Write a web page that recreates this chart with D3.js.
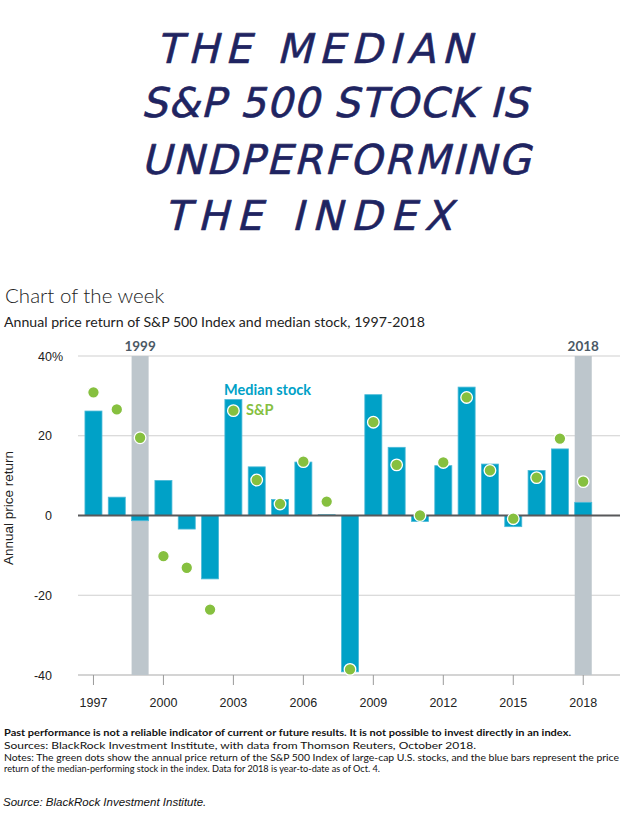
<!DOCTYPE html>
<html><head><meta charset="utf-8">
<script src="https://cdn.jsdelivr.net/npm/d3@7"></script>
<style>body{margin:0;background:#fff}svg{display:block}</style>
</head><body>
<svg id="c" width="621" height="822"></svg>
<script>
// ---- data ----
const years = [1997,1998,1999,2000,2001,2002,2003,2004,2005,2006,2007,2008,2009,2010,2011,2012,2013,2014,2015,2016,2017,2018];
const medianStock = [26.2,4.6,-1.3,8.8,-3.4,-15.9,29.1,12.2,4.0,13.4,0.2,-39.2,30.3,17.1,-1.5,12.5,32.2,12.9,-2.8,11.3,16.7,3.3];
const sp500 = [30.9,26.6,19.5,-10.2,-13.1,-23.6,26.3,8.9,2.9,13.5,3.5,-38.6,23.4,12.7,0.0,13.3,29.6,11.3,-0.8,9.5,19.3,8.5];
const highlightYears = [1999, 2018];
const yTicks = [-40, -20, 0, 20, 40];
const xTicks = [1997, 2000, 2003, 2006, 2009, 2012, 2015, 2018];
const headline = ["THE MEDIAN", "S&P 500 STOCK IS", "UNDPERFORMING", "THE INDEX"];
const footnotes = [
  "Past performance is not a reliable indicator of current or future results. It is not possible to invest directly in an index.",
  "Sources: BlackRock Investment Institute, with data from Thomson Reuters, October 2018.",
  "Notes: The green dots show the annual price return of the S&P 500 Index of large-cap U.S. stocks, and the blue bars represent the price",
  "return of the median-performing stock in the index. Data for 2018 is year-to-date as of Oct. 4."
];

// ---- styles ----
const BLUE = "#00a1c7", GREEN = "#86c03f", GRAY = "#bdc6cc", NAVY = "#1f2461";
const svg = d3.select("#c");

// handwritten-style headline
const hl = [
  {x0:152, x1:472, y:63},
  {x0:137, x1:528, y:117},
  {x0:137, x1:530, y:174},
  {x0:160, x1:452, y:230}
];
const hg = svg.append("g");
headline.forEach((t,i)=>{
  const p = hl[i];
  hg.append("text")
    .attr("transform", `translate(${p.x0},${p.y}) skewX(-14)`)
    .attr("x", 4).attr("y", 0)
    .attr("textLength", p.x1 - p.x0 - 4).attr("lengthAdjust", "spacing")
    .attr("font-family", "DejaVu Sans")
    .attr("font-size", 41)
    .attr("fill", NAVY).attr("stroke", NAVY).attr("stroke-width", 0.6)
    .attr("stroke-linejoin", "round")
    .text(t);
});

// titles
svg.append("text").attr("x", 5).attr("y", 303)
  .attr("font-family", "Lato").attr("font-weight", 300).attr("font-size", 20.5)
  .attr("fill", "#222").text("Chart of the week");
svg.append("text").attr("x", 4).attr("y", 326.5)
  .attr("font-family", "Lato").attr("font-size", 14)
  .attr("textLength", 421).attr("lengthAdjust", "spacingAndGlyphs")
  .attr("fill", "#222").text("Annual price return of S&P 500 Index and median stock, 1997-2018");

// scales
const x = d3.scaleBand().domain(years).range([81.8, 594.9]).paddingInner(0.27).paddingOuter(0.135);
const y = d3.scaleLinear().domain([-40, 40]).range([675, 356]);
const cx = d => x(d) + x.bandwidth()/2;

// grid lines
svg.append("g").selectAll("line").data(yTicks.filter(d => d !== 0)).join("line")
  .attr("x1", 78).attr("x2", 620)
  .attr("y1", d => y(d)).attr("y2", d => y(d))
  .attr("stroke", d => d === -40 ? "#a9a9a9" : "#cfcfcf").attr("stroke-width", 1.2);

// highlight columns
svg.append("g").selectAll("rect").data(highlightYears).join("rect")
  .attr("x", d => x(d)).attr("width", x.bandwidth())
  .attr("y", y(40)).attr("height", y(-40) - y(40))
  .attr("fill", GRAY);
svg.append("g").selectAll("text").data(highlightYears).join("text")
  .attr("x", d => cx(d)).attr("y", 351).attr("text-anchor", "middle")
  .attr("font-family", "Lato").attr("font-weight", 700).attr("font-size", 13.5)
  .attr("fill", "#4b5965").text(d => d);

// bars
const rows = years.map((yr, i) => ({yr, m: medianStock[i], s: sp500[i]}));
svg.append("g").selectAll("rect").data(rows).join("rect")
  .attr("x", d => x(d.yr)).attr("width", x.bandwidth())
  .attr("y", d => y(Math.max(0, d.m)))
  .attr("height", d => Math.abs(y(d.m) - y(0)))
  .attr("fill", BLUE).attr("stroke", "#4cbad8").attr("stroke-width", 0.8);

// zero line
svg.append("line").attr("x1", 78).attr("x2", 620).attr("y1", y(0)).attr("y2", y(0))
  .attr("stroke", "#58595b").attr("stroke-width", 2);

// dots
svg.append("g").selectAll("circle").data(rows).join("circle")
  .attr("cx", d => cx(d.yr)).attr("cy", d => y(d.s)).attr("r", 5.8)
  .attr("fill", GREEN).attr("stroke", "#fff").attr("stroke-width", 1.3);

// legend annotations
svg.append("text").attr("x", 224).attr("y", 394.5)
  .attr("font-family", "Lato").attr("font-weight", 700).attr("font-size", 14.5)
  .attr("fill", BLUE).text("Median stock");
svg.append("text").attr("x", 246).attr("y", 415)
  .attr("font-family", "Lato").attr("font-weight", 700).attr("font-size", 14.5)
  .attr("fill", GREEN).text("S&P");

// y axis
const ya = svg.append("g").attr("transform", "translate(55,0)")
  .call(d3.axisLeft(y).tickValues(yTicks).tickSize(0).tickPadding(3).tickFormat(d => String(d)));
ya.select(".domain").remove();
ya.selectAll("text").attr("font-family", "Liberation Sans, Arial").attr("font-size", 12.5).attr("fill", "#222");
ya.selectAll(".tick").filter(d => d === 40).append("text")
  .attr("x", -3).attr("dy", "0.32em").attr("text-anchor", "start")
  .attr("font-family", "Liberation Sans, Arial").attr("font-size", 12.5).attr("fill", "#222").text("%");

svg.append("text").attr("transform", "translate(13,508) rotate(-90)")
  .attr("text-anchor", "middle").attr("font-family", "Liberation Sans, Arial").attr("font-size", 13.5)
  .attr("fill", "#222").text("Annual price return");

// x axis
const xa = svg.append("g").attr("transform", `translate(0,${y(-40)})`)
  .call(d3.axisBottom(x).tickValues(xTicks).tickSize(10).tickPadding(13));
xa.select(".domain").remove();
xa.selectAll("line").attr("stroke", "#9a9a9a");
xa.selectAll("text").attr("font-family", "Liberation Sans, Arial").attr("font-size", 12.5).attr("fill", "#222");

// footnotes
const fnY = [736, 748.5, 761, 772];
const fnW = [567, 472, 615, 376];
footnotes.forEach((t, i) => {
  svg.append("text").attr("x", 4).attr("y", fnY[i])
    .attr("font-family", "Lato").attr("font-size", 10)
    .attr("font-weight", i === 0 ? 700 : 400)
    .attr("textLength", fnW[i]).attr("lengthAdjust", "spacingAndGlyphs")
    .attr("fill", "#111").text(t);
});
svg.append("text").attr("x", 3).attr("y", 806)
  .attr("font-family", "Liberation Sans, Arial").attr("font-style", "italic").attr("font-size", 11.5)
  .attr("fill", "#111").text("Source: BlackRock Investment Institute.");
</script>
</body></html>
